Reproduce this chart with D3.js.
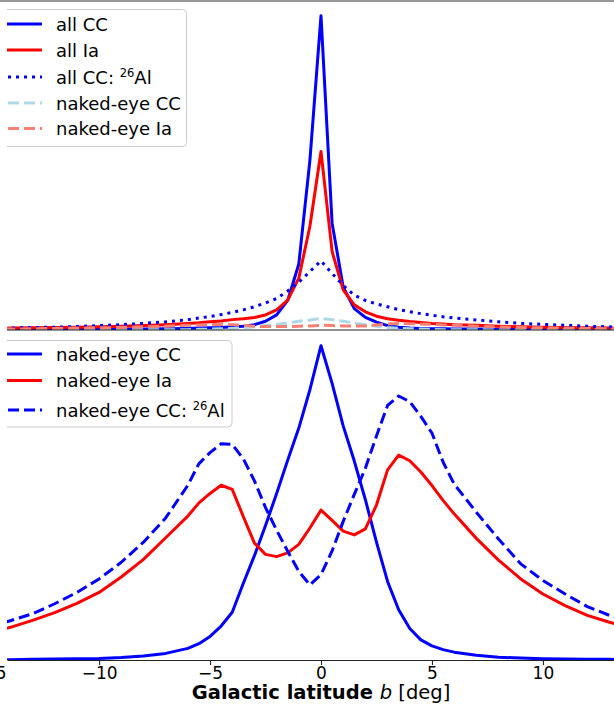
<!DOCTYPE html>
<html>
<head>
<meta charset="utf-8">
<script src="https://cdn.jsdelivr.net/npm/d3@7"></script>
<style>
  html, body { margin: 0; padding: 0; background: #fff; }
  svg { display: block; font-family: "DejaVu Sans", sans-serif; }
</style>
</head>
<body>
<div id="chart"></div>
<script>
// Galactic latitude grid (deg), shared by every series
const latitude = [-15, -14, -13, -12, -11, -10, -9, -8, -7, -6,
  -5.5, -5, -4.5, -4, -3.5, -3, -2.5, -2, -1.5, -1, -0.5, 0, 0.5, 1, 1.5, 2, 2.5, 3, 3.5, 4, 4.5, 5, 5.5,
  6, 7, 8, 9, 10, 11, 12, 13, 14, 15];

// Top panel (normalised to the all-CC peak)
const allCC = [0.001, 0.001, 0.001, 0.002, 0.002, 0.002, 0.003, 0.003, 0.004, 0.005,
  0.006, 0.007, 0.008, 0.010, 0.012, 0.017, 0.028, 0.048, 0.094, 0.210, 0.540, 1.000, 0.340, 0.137, 0.068, 0.040, 0.025, 0.014, 0.009, 0.006, 0.005, 0.004, 0.004,
  0.003, 0.003, 0.002, 0.002, 0.002, 0.001, 0.001, 0.001, 0.001, 0.001];
const allIa = [0.005, 0.006, 0.007, 0.008, 0.009, 0.010, 0.012, 0.014, 0.017, 0.021,
  0.023, 0.026, 0.029, 0.033, 0.036, 0.040, 0.048, 0.064, 0.095, 0.165, 0.330, 0.568, 0.250, 0.128, 0.080, 0.058, 0.044, 0.036, 0.031, 0.027, 0.024, 0.021, 0.019,
  0.017, 0.015, 0.012, 0.010, 0.009, 0.008, 0.007, 0.006, 0.005, 0.005];
const allCCAl = [0.005, 0.006, 0.008, 0.009, 0.011, 0.014, 0.017, 0.021, 0.026, 0.033,
  0.038, 0.043, 0.049, 0.056, 0.064, 0.074, 0.086, 0.100, 0.124, 0.152, 0.186, 0.220, 0.180, 0.142, 0.111, 0.094, 0.083, 0.074, 0.065, 0.058, 0.052, 0.047, 0.042,
  0.038, 0.032, 0.026, 0.021, 0.018, 0.015, 0.012, 0.010, 0.008, 0.007];
const nakedCCTop = [0, 0, 0, 0, 0, 0, 0, 0.001, 0.001, 0.001,
  0.002, 0.003, 0.004, 0.005, 0.007, 0.010, 0.014, 0.018, 0.022, 0.028, 0.032, 0.037, 0.033, 0.028, 0.022, 0.017, 0.012, 0.008, 0.005, 0.004, 0.003, 0.002, 0.001,
  0.001, 0.001, 0, 0, 0, 0, 0, 0, 0, 0];
const nakedIaTop = [0.003, 0.003, 0.004, 0.005, 0.006, 0.007, 0.008, 0.010, 0.012, 0.015,
  0.016, 0.017, 0.018, 0.017, 0.015, 0.012, 0.011, 0.011, 0.011, 0.012, 0.013, 0.015, 0.014, 0.013, 0.013, 0.013, 0.016, 0.019, 0.021, 0.020, 0.019, 0.018, 0.016,
  0.015, 0.012, 0.010, 0.008, 0.007, 0.006, 0.005, 0.004, 0.003, 0.003];

// Bottom panel (normalised to the naked-eye CC peak)
const nakedCC = [0.001, 0.001, 0.002, 0.003, 0.004, 0.005, 0.008, 0.013, 0.021, 0.037,
  0.052, 0.075, 0.108, 0.152, 0.244, 0.332, 0.428, 0.530, 0.636, 0.738, 0.860, 1.000, 0.880, 0.745, 0.633, 0.510, 0.375, 0.250, 0.160, 0.100, 0.064, 0.045, 0.033,
  0.025, 0.015, 0.009, 0.006, 0.004, 0.003, 0.002, 0.002, 0.001, 0.001];
const nakedIa = [0.085, 0.104, 0.126, 0.151, 0.180, 0.215, 0.264, 0.320, 0.389, 0.458,
  0.500, 0.530, 0.556, 0.543, 0.456, 0.372, 0.336, 0.329, 0.341, 0.368, 0.420, 0.477, 0.444, 0.410, 0.398, 0.417, 0.493, 0.605, 0.652, 0.634, 0.598, 0.555, 0.508,
  0.465, 0.387, 0.318, 0.258, 0.210, 0.173, 0.142, 0.120, 0.101, 0.086];
const nakedCCAl = [0.105, 0.125, 0.147, 0.179, 0.215, 0.258, 0.311, 0.375, 0.452, 0.556,
  0.625, 0.660, 0.688, 0.686, 0.640, 0.570, 0.485, 0.413, 0.346, 0.282, 0.239, 0.272, 0.347, 0.441, 0.527, 0.610, 0.713, 0.810, 0.840, 0.822, 0.775, 0.722, 0.630,
  0.560, 0.470, 0.385, 0.306, 0.253, 0.210, 0.170, 0.142, 0.122, 0.105];

const xTicks = [-15, -10, -5, 0, 5, 10];

(function () {
  const width = 614, height = 717;
  const left = 7, right = 635;      // axes run on past the right edge of the picture
  const topY0 = 0, topY1 = 330, botY0 = 330, botY1 = 660;

  const svg = d3.select('#chart').append('svg')
    .attr('width', width)
    .attr('height', height);

  const defs = svg.append('defs');
  defs.append('clipPath').attr('id', 'clipTop')
    .append('rect').attr('x', left).attr('y', topY0).attr('width', right - left).attr('height', topY1 - topY0);
  defs.append('clipPath').attr('id', 'clipBot')
    .append('rect').attr('x', left).attr('y', botY0).attr('width', right - left).attr('height', botY1 - botY0);
  defs.append('clipPath').attr('id', 'clipLeft')
    .append('rect').attr('x', left).attr('y', 0).attr('width', width).attr('height', height);

  const x = d3.scaleLinear().domain([-14.15, 14.15]).range([left, right]);
  const yTop = d3.scaleLinear().domain([0, 1.05]).range([topY1, topY0]);
  const yBot = d3.scaleLinear().domain([0, 1.05]).range([botY1, botY0]);

  const styles = {
    solidBlue: { stroke: '#0000ff', dash: null },
    solidRed: { stroke: '#ff0000', dash: null },
    dotBlue: { stroke: '#0000ff', dash: '3,5' },
    dashLight: { stroke: '#add8e6', dash: '11,5' },
    dashSalmon: { stroke: '#fa8072', dash: '11,5' },
    dashBlue: { stroke: '#0000ff', dash: '11,5' }
  };

  function drawPanel(series, y, clipId) {
    const g = svg.append('g').attr('clip-path', `url(#${clipId})`);
    const line = d3.line().x((d, i) => x(latitude[i])).y(d => y(d));
    series.forEach(s => {
      g.append('path')
        .datum(s.values)
        .attr('d', line)
        .attr('fill', 'none')
        .attr('stroke', s.style.stroke)
        .attr('stroke-width', 3)
        .attr('stroke-linejoin', 'round')
        .attr('stroke-dasharray', s.style.dash);
    });
  }

  const topSeries = [
    { label: ['all CC'], values: allCC, style: styles.solidBlue },
    { label: ['all Ia'], values: allIa, style: styles.solidRed },
    { label: ['all CC: ', '26', 'Al'], values: allCCAl, style: styles.dotBlue },
    { label: ['naked-eye CC'], values: nakedCCTop, style: styles.dashLight },
    { label: ['naked-eye Ia'], values: nakedIaTop, style: styles.dashSalmon }
  ];
  const botSeries = [
    { label: ['naked-eye CC'], values: nakedCC, style: styles.solidBlue },
    { label: ['naked-eye Ia'], values: nakedIa, style: styles.solidRed },
    { label: ['naked-eye CC: ', '26', 'Al'], values: nakedCCAl, style: styles.dashBlue }
  ];

  drawPanel(topSeries, yTop, 'clipTop');
  drawPanel(botSeries, yBot, 'clipBot');

  // Spines
  svg.append('line')
    .attr('x1', 0).attr('x2', width).attr('y1', 1).attr('y2', 1)
    .attr('stroke', '#333').attr('stroke-width', 1.2);
  svg.append('line')
    .attr('x1', left).attr('x2', right).attr('y1', topY1).attr('y2', topY1)
    .attr('stroke', '#222').attr('stroke-width', 1.2);

  // Bottom axis
  const xAxis = d3.axisBottom(x).tickValues(xTicks).tickSize(5).tickSizeOuter(0).tickPadding(2);
  const axG = svg.append('g')
    .attr('transform', `translate(0,${botY1})`)
    .call(xAxis);
  axG.select('.domain').attr('stroke', '#222').attr('stroke-width', 1.2);
  axG.selectAll('.tick line').attr('stroke', '#222').attr('stroke-width', 1.1);
  axG.selectAll('.tick text')
    .attr('font-family', '"DejaVu Sans", sans-serif')
    .attr('font-size', 17)
    .attr('fill', '#000');

  const label = svg.append('text')
    .attr('x', x(0))
    .attr('y', 699)
    .attr('text-anchor', 'middle')
    .attr('font-size', 19.5)
    .attr('fill', '#000');
  label.append('tspan').attr('font-weight', 'bold').text('Galactic latitude ');
  label.append('tspan').attr('font-style', 'italic').text('b');
  label.append('tspan').text(' [deg]');

  // Legends
  function drawLegend(series, box, rows) {
    const g = svg.append('g').attr('clip-path', 'url(#clipLeft)');
    g.append('rect')
      .attr('x', -20).attr('y', box.y)
      .attr('width', box.right + 20).attr('height', box.h)
      .attr('rx', 4).attr('ry', 4)
      .attr('fill', '#fff').attr('fill-opacity', 0.8)
      .attr('stroke', '#cccccc').attr('stroke-width', 1);
    series.forEach((s, i) => {
      const yy = rows[i];
      g.append('line')
        .attr('x1', -8).attr('x2', 42).attr('y1', yy).attr('y2', yy)
        .attr('stroke', s.style.stroke)
        .attr('stroke-width', 3)
        .attr('stroke-dasharray', s.style.dash);
      const t = g.append('text')
        .attr('x', 56).attr('y', yy + 6.5)
        .attr('font-size', 18)
        .attr('fill', '#000');
      t.append('tspan').text(s.label[0]);
      if (s.label.length > 1) {
        t.append('tspan').attr('font-size', 11.5).attr('dy', -7).text(s.label[1]);
        t.append('tspan').attr('dy', 7).text(s.label[2]);
      }
    });
  }

  drawLegend(topSeries, { y: 9.5, h: 137, right: 186.5 }, [24, 50, 77, 103, 128.5]);
  drawLegend(botSeries, { y: 340.5, h: 86.5, right: 232 }, [354, 380.5, 410]);
})();
</script>
</body>
</html>
